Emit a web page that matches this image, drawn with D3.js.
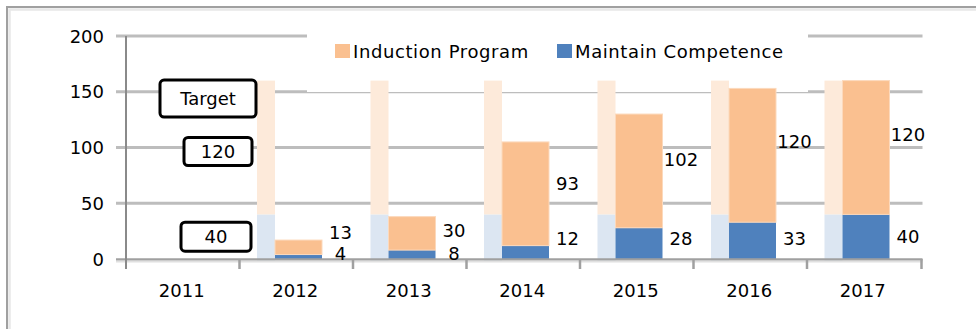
<!DOCTYPE html>
<html>
<head>
<meta charset="utf-8">
<script src="https://cdn.jsdelivr.net/npm/d3@7"></script>
<style>
  html, body { margin: 0; padding: 0; background: #fff; }
  svg { display: block; font-family: "DejaVu Sans", Verdana, sans-serif; }
</style>
</head>
<body>
<svg id="chart" width="976" height="329"></svg>
<script>
// Training programme: completed sessions vs. target, by year
const years = ["2011", "2012", "2013", "2014", "2015", "2016", "2017"];
const induction = [null, 13, 30, 93, 102, 120, 120];
const maintain = [null, 4, 8, 12, 28, 33, 40];
const targetInduction = [null, 120, 120, 120, 120, 120, 120];
const targetMaintain = [null, 40, 40, 40, 40, 40, 40];
const yTicks = [0, 50, 100, 150, 200];
const seriesNames = ["Induction Program", "Maintain Competence"];
const targetLabel = "Target";

const colors = {
  induction: "#FAC090",
  maintain: "#4F81BD",
  targetInduction: "#FDEADA",
  targetMaintain: "#DCE6F2",
  grid: "#BDBDBD",
  axis: "#A0A0A0"
};

const svg = d3.select("#chart");
const FS = 18;          // text size
const BASE = 6.5;       // baseline offset to visually centre digits/caps

const x = d3.scaleBand().domain(years).range([126, 920.5]).padding(0);
const y = d3.scaleLinear().domain([0, 200]).range([259, 36]);
const bw = x.bandwidth();

const rows = years.map((yr, i) => ({
  year: yr, ind: induction[i], mnt: maintain[i],
  tInd: targetInduction[i], tMnt: targetMaintain[i]
}));
const withData = rows.filter(d => d.ind != null);

// outer frame
svg.append("rect").attr("x", 7).attr("y", 7).attr("width", 1100).attr("height", 500)
  .attr("fill", "none").attr("stroke", "#A0A0A0").attr("stroke-width", 2);
svg.append("rect").attr("x", 9.5).attr("y", 9.5).attr("width", 1100).attr("height", 500)
  .attr("fill", "none").attr("stroke", "#E8E8E8").attr("stroke-width", 2.5);

// horizontal gridlines
svg.append("g").selectAll("line").data(yTicks.filter(t => t > 0)).join("line")
  .attr("x1", 116).attr("x2", x.range()[1] + 2)
  .attr("y1", d => y(d)).attr("y2", d => y(d))
  .attr("stroke", colors.grid).attr("stroke-width", 3);

// y tick labels
svg.append("g").selectAll("text").data(yTicks).join("text")
  .attr("x", 104).attr("y", d => y(d) + BASE)
  .attr("text-anchor", "end").attr("font-size", FS).attr("fill", "#000")
  .text(d => d);

// legend panel (opaque, sits over the top gridline)
const legend = svg.append("g");
legend.append("rect").attr("x", 307).attr("y", 27).attr("width", 501).attr("height", 65)
  .attr("fill", "#fff");

// target bars (pale, behind each year's actual bar)
const tX = d => x(d.year) + 17.5;
const tW = 18;
const aX = d => x(d.year) + 35.5;
const aW = 47;

const bars = svg.append("g");
bars.selectAll("rect.tm").data(withData).join("rect").attr("class", "tm")
  .attr("x", tX).attr("width", tW)
  .attr("y", d => y(d.tMnt)).attr("height", d => y(0) - y(d.tMnt) + 3)
  .attr("fill", colors.targetMaintain);
bars.selectAll("rect.ti").data(withData).join("rect").attr("class", "ti")
  .attr("x", tX).attr("width", tW)
  .attr("y", d => y(d.tMnt + d.tInd)).attr("height", d => y(d.tMnt) - y(d.tMnt + d.tInd))
  .attr("fill", colors.targetInduction);

// actual stacked bars
bars.selectAll("rect.am").data(withData).join("rect").attr("class", "am")
  .attr("x", aX).attr("width", aW)
  .attr("y", d => y(d.mnt)).attr("height", d => y(0) - y(d.mnt))
  .attr("fill", colors.maintain);
bars.selectAll("rect.ai").data(withData).join("rect").attr("class", "ai")
  .attr("x", aX).attr("width", aW)
  .attr("y", d => y(d.mnt + d.ind)).attr("height", d => y(d.mnt) - y(d.mnt + d.ind))
  .attr("fill", colors.induction)
  .attr("stroke", "#FCD9BC").attr("stroke-width", 1);

// x axis line and ticks
const xr = x.range();
svg.append("line").attr("x1", 116).attr("x2", xr[1] + 2)
  .attr("y1", y(0) + 0.5).attr("y2", y(0) + 0.5)
  .attr("stroke", colors.axis).attr("stroke-width", 2.5);
svg.append("line").attr("x1", 116).attr("x2", xr[1] + 2)
  .attr("y1", y(0) + 2.5).attr("y2", y(0) + 2.5)
  .attr("stroke", "#E0E0E0").attr("stroke-width", 2);
svg.append("g").selectAll("line").data(years.slice(1).concat(["end"])).join("line")
  .attr("x1", d => d === "end" ? xr[1] + 1 : x(d)).attr("x2", d => d === "end" ? xr[1] + 1 : x(d))
  .attr("y1", y(0)).attr("y2", y(0) + 10)
  .attr("stroke", colors.axis).attr("stroke-width", 2.5);

// y axis line
svg.append("line").attr("x1", 126).attr("x2", 126)
  .attr("y1", y(200)).attr("y2", y(0) + 10)
  .attr("stroke", "#8A8A8A").attr("stroke-width", 2);

// x tick labels
svg.append("g").selectAll("text").data(years).join("text")
  .attr("x", d => x(d) + bw / 2 - 1).attr("y", 290.5 + BASE)
  .attr("text-anchor", "middle").attr("font-size", FS).attr("fill", "#000")
  .text(d => d);

// value labels to the right of each bar
const labX = d => x(d.year) + 101;
const indLevel = d => Math.max(24, d.mnt + 0.6 * d.ind);
// thin segments get their label tucked just above the axis
const mntLevel = d => d.mnt < 10 ? 5 : Math.max(18, d.mnt / 2);
const labels = svg.append("g").attr("font-size", FS).attr("fill", "#000").attr("text-anchor", "middle");
labels.selectAll("text.li").data(withData).join("text").attr("class", "li")
  .attr("x", labX).attr("y", d => y(indLevel(d)) + BASE).text(d => d.ind);
labels.selectAll("text.lm").data(withData).join("text").attr("class", "lm")
  .attr("x", labX).attr("y", d => y(mntLevel(d)) + BASE).text(d => d.mnt);

// target call-out boxes on the left
const tRef = withData[0];
const boxes = [
  { text: targetLabel, cx: 208, cy: y(tRef.tMnt + tRef.tInd) + 18, w: 96, h: 37 },
  { text: String(tRef.tInd), cx: 218, cy: y(tRef.tMnt + tRef.tInd / 2) + 4, w: 68, h: 28 },
  { text: String(tRef.tMnt), cx: 216, cy: y(tRef.tMnt / 2), w: 70, h: 29 }
];
const bg = svg.append("g");
bg.selectAll("rect").data(boxes).join("rect")
  .attr("x", d => d.cx - d.w / 2).attr("y", d => d.cy - d.h / 2)
  .attr("width", d => d.w).attr("height", d => d.h)
  .attr("rx", 4).attr("ry", 4)
  .attr("fill", "#fff").attr("stroke", "#000").attr("stroke-width", 3);
bg.selectAll("text").data(boxes).join("text")
  .attr("x", d => d.cx).attr("y", d => d.cy + BASE)
  .attr("text-anchor", "middle").attr("font-size", FS).attr("fill", "#000")
  .text(d => d.text);

// legend entries
const legendItems = [
  { name: seriesNames[0], color: colors.induction, sx: 335 },
  { name: seriesNames[1], color: colors.maintain, sx: 557 }
];
const li = legend.selectAll("g.item").data(legendItems).join("g").attr("class", "item");
li.append("rect").attr("x", d => d.sx).attr("y", 44).attr("width", 15).attr("height", 14)
  .attr("fill", d => d.color);
li.append("text").attr("x", d => d.sx + 18).attr("y", 51 + BASE)
  .attr("font-size", FS).attr("letter-spacing", 0.6).attr("fill", "#000")
  .text(d => d.name);
</script>
</body>
</html>
